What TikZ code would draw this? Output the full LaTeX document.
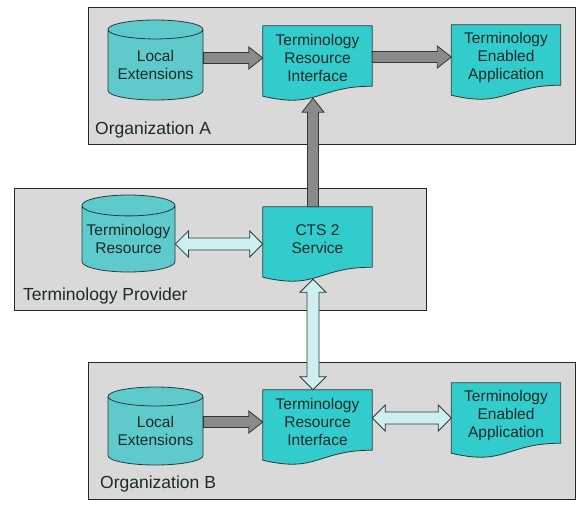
\documentclass[tikz,border=0pt]{standalone}
\usepackage{fontspec}
\setmainfont{Liberation Sans}
\usetikzlibrary{shapes.geometric,calc,positioning}

\definecolor{boxgray}{HTML}{D9D9D9}
\definecolor{docteal}{HTML}{33CCCC}
\definecolor{cylteal}{HTML}{5ECACC}
\definecolor{lightarr}{HTML}{CDEFEF}
\definecolor{darkarr}{HTML}{8A8A8A}
\definecolor{edgecol}{HTML}{2A3A3A}
\definecolor{txtcol}{HTML}{1C2A2A}

\pgfdeclarelayer{back}
\pgfsetlayers{back,main}

% document shape with a wavy bottom behind a named node
\newcommand{\docshape}[1]{%
  \begin{pgfonlayer}{back}
  \draw[fill=docteal, draw=edgecol, line width=0.8pt, line join=round]
    (#1.north west) -- (#1.north east) -- ([yshift=4pt]#1.south east)
    .. controls ([yshift=4pt]#1.south) and ([yshift=-19pt]#1.south) .. ([yshift=-6pt]#1.south west) -- cycle;
  \end{pgfonlayer}}

% block arrows, head at the second node
\newcommand{\harrow}[3]{%
  \draw[#1] let \p1=(#2), \p2=(#3), \n1={sign(\x2-\x1)} in
    (\x1,\y2+\arrs) -- (\x2-\n1*\arrl,\y2+\arrs) -- (\x2-\n1*\arrl,\y2+\arrh) -- (\x2,\y2)
    -- (\x2-\n1*\arrl,\y2-\arrh) -- (\x2-\n1*\arrl,\y2-\arrs) -- (\x1,\y2-\arrs) -- cycle;}
\newcommand{\hdarrow}[3]{%
  \draw[#1] let \p1=(#2), \p2=(#3), \n1={sign(\x2-\x1)} in
    (\x1,\y2) -- (\x1+\n1*\arrl,\y2+\arrh) -- (\x1+\n1*\arrl,\y2+\arrs) -- (\x2-\n1*\arrl,\y2+\arrs)
    -- (\x2-\n1*\arrl,\y2+\arrh) -- (\x2,\y2) -- (\x2-\n1*\arrl,\y2-\arrh) -- (\x2-\n1*\arrl,\y2-\arrs)
    -- (\x1+\n1*\arrl,\y2-\arrs) -- (\x1+\n1*\arrl,\y2-\arrh) -- cycle;}
\newcommand{\varrow}[3]{%
  \draw[#1] let \p1=(#2), \p2=(#3), \n1={sign(\y2-\y1)} in
    (\x2+\arrs,\y1) -- (\x2+\arrs,\y2-\n1*\arrl) -- (\x2+\arrh,\y2-\n1*\arrl) -- (\x2,\y2)
    -- (\x2-\arrh,\y2-\n1*\arrl) -- (\x2-\arrs,\y2-\n1*\arrl) -- (\x2-\arrs,\y1) -- cycle;}
\newcommand{\vdarrow}[3]{%
  \draw[#1] let \p1=(#2), \p2=(#3), \n1={sign(\y2-\y1)} in
    (\x2,\y1) -- (\x2+\arrh,\y1+\n1*\arrl) -- (\x2+\arrs,\y1+\n1*\arrl) -- (\x2+\arrs,\y2-\n1*\arrl)
    -- (\x2+\arrh,\y2-\n1*\arrl) -- (\x2,\y2) -- (\x2-\arrh,\y2-\n1*\arrl) -- (\x2-\arrs,\y2-\n1*\arrl)
    -- (\x2-\arrs,\y1+\n1*\arrl) -- (\x2-\arrh,\y1+\n1*\arrl) -- cycle;}

\begin{document}
\begin{tikzpicture}[x=1pt, y=-1pt,
  orgbox/.style={fill=boxgray, draw=black!85, line width=1pt},
  orglabel/.style={anchor=base west, inner sep=0pt, text=txtcol, font=\fontsize{17.5}{20}\selectfont},
  doc/.style={minimum width=109pt, minimum height=64pt, inner sep=0pt, align=center, text=txtcol,
    font=\fontsize{15.5}{18}\selectfont},
  db/.style={cylinder, shape border rotate=90, aspect=0.25, fill=cylteal, draw=edgecol, line width=0.8pt,
    inner sep=0pt, align=center, text=txtcol, font=\fontsize{15.5}{18}\selectfont, anchor=shape center},
  grayarrow/.style={fill=darkarr, draw=edgecol, line width=0.8pt,
    /utils/exec={\def\arrs{5.5pt}\def\arrh{11pt}\def\arrl{14pt}}},
  lightarrow/.style={fill=lightarr, draw=edgecol, line width=0.8pt,
    /utils/exec={\def\arrs{6pt}\def\arrh{13pt}\def\arrl{13pt}}}]
\useasboundingbox (0,0) rectangle (584,512);

% the three organisations
\begin{pgfonlayer}{back}
\draw[orgbox] (88,7) rectangle (575,144);
\draw[orgbox] (14,188) rectangle (426,310);
\draw[orgbox] (88,362) rectangle (575,499);
\end{pgfonlayer}
\node[orglabel] (labA) at (95,134) {Organization A};
\node[orglabel] (labP) at (23,300) {Terminology Provider};
\node[orglabel] (labB) at (100,488) {Organization B};

% Organization A
\node[db, minimum width=95pt, minimum height=80pt] (cylA) at (155.5,60) {Local\\Extensions};
\node[doc] (triA) at (317.5,58) {Terminology\\Resource\\Interface};
\node[doc] (teaA) at (506,57) {Terminology\\Enabled\\Application};
\docshape{triA}
\docshape{teaA}

% Terminology Provider
\node[db, minimum width=93pt, minimum height=77pt] (trmRes) at (128.5,233.5) {Terminology\\Resource};
\node[doc] (cts) at (317.5,239) {CTS 2\\Service};
\docshape{cts}

% Organization B
\node[db, minimum width=95pt, minimum height=78pt] (cylB) at (155.5,426) {Local\\Extensions};
\node[doc] (triB) at (317.5,422) {Terminology\\Resource\\Interface};
\node[doc] (teaB) at (506,415) {Terminology\\Enabled\\Application};
\docshape{triB}
\docshape{teaB}

% connectors
\harrow{grayarrow}{cylA.east}{triA.west}
\harrow{grayarrow}{triA.east}{teaA.west}
\hdarrow{lightarrow}{trmRes.east}{[yshift=-5pt]cts.west}
\varrow{grayarrow}{[xshift=-4.5pt]cts.north}{[xshift=-4.5pt,yshift=-8pt]triA.south}
\vdarrow{lightarrow}{[xshift=-4.5pt,yshift=-8pt]cts.south}{[xshift=-4.5pt]triB.north}
\harrow{grayarrow}{cylB.east}{triB.west}
\hdarrow{lightarrow}{triB.east}{[yshift=-3pt]teaB.west}
\end{tikzpicture}
\end{document}
